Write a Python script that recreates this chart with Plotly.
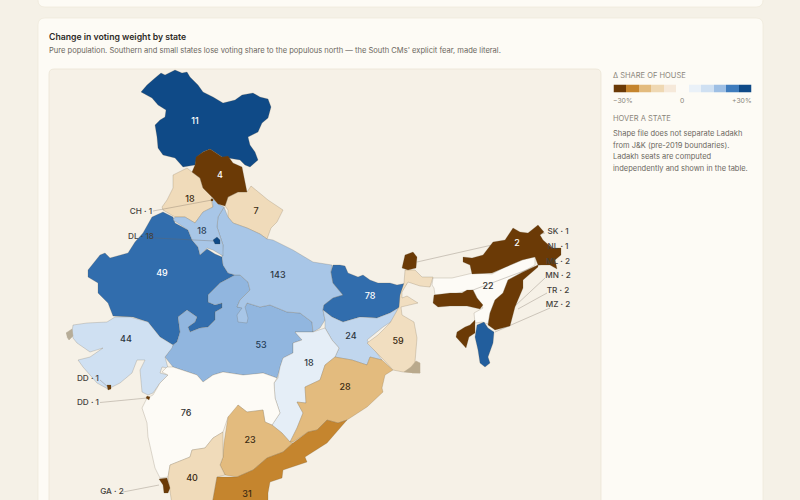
import plotly.graph_objects as go
from plotly.colors import sample_colorscale

# legend colours, low to high
SCALE_COLORS = ["#6b3a06", "#c5852e", "#e3bb7e", "#efd8b3", "#f6e9da", "#fdfbf6",
                "#eaf1f8", "#cfe0f2", "#9ebfe4", "#3f7cbd", "#0f4a87"]
LEGEND_BINS = [-30, -24, -18, -12, -6, 0, 6, 12, 18, 24, 30]

# state outlines (map units)
JK = [(141,92),(147,85),(155,78),(161,73),(165,75),(175,70),(182,73),(187,72),(190,77),(198,85),(203,92),(213,97),(223,103),(235,100),(242,95),(253,93),(260,97),(268,99),(271,107),(268,118),(262,123),(258,132),(248,137),(250,145),(255,152),(258,160),(250,167),(245,165),(240,160),(228,158),(222,157),(210,149),(203,152),(197,157),(195,165),(183,167),(175,158),(163,155),(158,148),(157,137),(155,125),(160,120),(165,117),(166,110),(158,105),(152,98),(142,93)]
HP = [(196,157),(203,152),(210,149),(222,157),(228,156),(233,163),(242,167),(244,177),(247,192),(238,192),(228,197),(225,206),(218,204),(212,197),(203,188),(200,178),(192,172),(195,165)]
PB = [(192,172),(200,178),(203,188),(212,197),(211,200),(213,207),(203,212),(195,223),(185,217),(175,217),(163,210),(162,207),(167,200),(173,188),(173,175),(187,168)]
UK = [(228,197),(238,192),(247,192),(251,186),(262,195),(268,200),(283,210),(277,222),(271,228),(267,239),(260,234),(247,228),(233,223),(228,217),(228,210),(225,206)]
RJ = [(163,212),(173,217),(175,223),(188,230),(192,240),(198,247),(200,255),(207,249),(215,254),(222,257),(223,265),(228,273),(235,275),(220,283),(208,295),(208,302),(215,305),(222,303),(222,308),(215,312),(215,320),(208,327),(200,328),(190,332),(188,327),(195,322),(197,317),(187,310),(178,317),(180,332),(177,342),(173,345),(160,337),(148,322),(133,317),(113,316),(108,303),(98,293),(98,283),(88,277),(88,270),(100,255),(105,253),(110,258),(128,253),(135,242),(143,233),(152,217)]
MP = [(235,275),(240,275),(248,282),(250,290),(240,300),(237,307),(245,307),(247,303),(260,307),(270,305),(287,312),(300,313),(312,322),(313,332),(295,332),(302,340),(293,343),(293,353),(283,358),(280,367),(277,378),(263,373),(250,375),(243,375),(223,372),(213,375),(203,382),(197,375),(173,367),(165,357),(172,347),(173,345),(177,342),(180,332),(178,317),(187,310),(197,317),(195,322),(188,327),(190,332),(200,328),(208,327),(215,320),(215,312),(222,308),(222,303),(215,305),(208,302),(208,295),(220,283)]
UP = [(224,207),(228,217),(233,223),(247,228),(260,234),(267,239),(273,240),(293,250),(313,262),(332,265),(331,272),(333,283),(337,288),(343,295),(333,298),(324,305),(323,310),(325,320),(320,328),(313,332),(312,322),(300,313),(287,312),(270,305),(260,307),(247,303),(245,307),(248,318),(247,323),(238,322),(237,315),(242,308),(237,307),(240,300),(250,290),(248,282),(240,275),(235,275),(228,273),(223,265),(222,257),(223,245),(217,227),(218,217)]
HR = [(212,198),(218,204),(224,207),(218,217),(217,227),(223,245),(223,256),(213,250),(207,248),(200,255),(198,247),(192,240),(188,230),(180,225),(173,220),(175,217),(185,217),(195,223),(203,212),(213,207)]
BR = [(333,265),(340,265),(345,266),(348,273),(358,277),(363,275),(370,280),(378,283),(390,283),(397,285),(407,283),(402,290),(400,300),(400,307),(390,313),(377,318),(360,317),(343,322),(332,317),(323,310),(324,305),(333,298),(343,295),(337,288),(333,283),(331,272)]
JH = [(323,310),(332,317),(343,322),(360,317),(377,318),(390,313),(400,307),(400,316),(383,327),(367,340),(382,360),(370,357),(367,365),(352,360),(340,358),(335,357),(339,348),(332,340),(325,328),(325,320)]
CT = [(295,332),(313,332),(325,328),(332,340),(339,348),(335,357),(325,365),(320,380),(305,387),(306,403),(297,402),(303,413),(297,428),(290,442),(282,433),(272,425),(280,413),(275,398),(274,383),(278,378),(280,367),(283,358),(293,353),(293,343),(302,340)]
OR = [(335,357),(340,358),(352,360),(367,365),(370,357),(382,360),(393,370),(385,375),(382,388),(383,392),(367,407),(347,420),(338,423),(327,420),(317,430),(308,432),(293,442),(290,442),(297,428),(303,413),(297,402),(306,403),(305,387),(320,380),(325,365)]
WB = [(405,270),(415,270),(422,277),(433,277),(430,287),(420,286),(408,282),(402,292),(402,298),(407,296),(418,303),(408,305),(401,307),(402,315),(414,322),(417,338),(415,362),(420,373),(403,372),(393,370),(382,358),(367,343),(378,335),(390,323),(396,312),(399,307),(400,295),(404,283)]
GJ = [(73,325),(87,323),(107,322),(115,317),(130,317),(148,322),(160,337),(173,345),(172,348),(165,357),(168,368),(162,367),(160,373),(168,375),(160,383),(153,393),(148,395),(142,392),(140,370),(145,360),(137,360),(132,373),(120,383),(108,389),(97,383),(83,367),(78,360),(90,357),(103,348),(90,352),(77,343),(73,338),(72,332)]
MH = [(167,367),(173,367),(197,375),(203,382),(213,375),(223,372),(243,375),(263,373),(277,378),(274,383),(275,398),(280,413),(272,425),(265,422),(263,410),(247,412),(238,405),(237,413),(228,417),(223,432),(213,438),(205,448),(192,450),(190,457),(170,465),(168,477),(160,478),(155,468),(148,437),(147,423),(142,408),(147,398),(153,395),(160,383),(168,375),(162,372)]
TG = [(238,405),(247,412),(263,410),(265,422),(272,425),(282,433),(290,442),(293,443),(283,452),(267,458),(253,470),(237,477),(225,475),(220,465),(223,457),(224,443),(228,417)]
KA = [(223,432),(213,438),(205,448),(192,450),(190,457),(170,465),(168,477),(170,490),(172,505),(212,505),(215,490),(217,477),(225,475),(220,465),(223,457)]
AP = [(347,420),(338,423),(327,420),(317,430),(308,432),(293,443),(283,452),(267,458),(253,470),(237,477),(217,477),(215,490),(212,505),(268,505),(268,493),(270,482),(282,478),(283,470),(307,462),(305,457),(327,443)]
AS = [(433,278),(452,278),(473,273),(492,274),(505,267),(522,260),(535,255),(535,265),(523,272),(508,280),(503,293),(495,300),(490,313),(488,324),(482,322),(475,323),(474,313),(483,308),(477,298),(473,290),(462,292),(450,295),(435,295),(434,288),(432,285)]
MZ = [(477,325),(484,322),(488,328),(494,332),(493,343),(488,357),(490,363),(485,367),(480,363),(478,350),(475,337)]
DL = [(213,240),(217,237),(220,240),(220,244),(215,244)]
CH = [(211,199),(213,199),(213,201),(211,201)]
SK = [(402,268),(405,255),(413,252),(417,257),(416,268),(408,270)]
AR = [(463,257),(472,258),(483,255),(493,242),(505,240),(513,228),(520,232),(528,233),(538,225),(544,232),(540,235),(543,240),(552,248),(561,248),(561,255),(555,260),(557,269),(550,265),(538,265),(535,257),(522,260),(505,267),(492,273),(472,274),(470,265),(463,262)]
MN = [(495,300),(503,293),(508,280),(523,272),(538,265),(538,267),(523,280),(523,288),(515,307),(510,326),(495,330),(488,325),(490,313)]
ML = [(434,295),(450,293),(462,293),(467,290),(473,290),(477,298),(483,305),(480,309),(467,306),(450,306),(438,307),(433,303)]
TR = [(457,332),(465,327),(470,325),(475,320),(475,333),(469,337),(466,348),(460,342),(456,337)]
GA = [(159,479),(167,478),(170,488),(168,493),(164,493),(163,485)]
DD1 = [(107,385),(111,385),(111,389),(108,390)]
DD2 = [(147,396),(150,397),(149,400),(146,398)]

BIG_STATES = [("J&K", JK, 30), ("Punjab", PB, -11), ("Uttarakhand", UK, -11), ("Rajasthan", RJ, 25.8),
              ("Madhya Pradesh", MP, 18.8), ("Uttar Pradesh", UP, 16.8), ("Haryana", HR, 16.8), ("Bihar", BR, 25.8),
              ("Jharkhand", JH, 13.8), ("Chhattisgarh", CT, 7), ("Odisha", OR, -18), ("West Bengal", WB, -10),
              ("Gujarat", GJ, 12), ("Maharashtra", MH, 0), ("Telangana", TG, -18), ("Karnataka", KA, -11),
              ("Andhra Pradesh", AP, -24), ("Assam", AS, 0), ("Mizoram shape", MZ, 27.6), ("Himachal", HP, -30)]
SMALL_STATES = [("Delhi", DL, 30), ("Chandigarh", CH, -30), ("Sikkim", SK, -30), ("Arunachal", AR, -30),
                ("Manipur", MN, -30), ("Meghalaya", ML, -30), ("Tripura", TR, -30), ("Goa", GA, -30),
                ("Daman", DD1, -30), ("Diu", DD2, -30)]

SEAT_TEXT = ["11", "4", "18", "18", "7", "49", "143", "78", "24", "59", "53", "44", "18", "28", "76", "23", "40", "31", "22", "2"]
SEAT_X = [195, 220, 190, 202, 256, 162, 278, 370, 351, 398, 261, 126, 309, 345, 186, 250, 192, 247, 488, 517]
SEAT_Y = [122, 176, 200, 232, 212, 274, 276, 297, 337, 342, 346, 340, 364, 388, 414, 441, 479, 495, 287, 244]
SEAT_COLOR = ["#fff", "#fff", "#3a2a12", "#2c3e55", "#3a2a12", "#fff", "#2c3540", "#fff", "#2c3540", "#3a2a12",
              "#223a55", "#2c3540", "#2c3540", "#3a2a12", "#333", "#3a2a12", "#3a2a12", "#3a2a12", "#333", "#fff"]

CALLOUT_TEXT = ["CH · 1", "DL · 18", "DD · 1", "DD · 1", "GA · 2", "SK · 1", "NL · 1", "ML · 2", "MN · 2", "TR · 2", "MZ · 2"]
CALLOUT_X = [141, 141, 88, 88, 112, 558, 558, 558, 558, 558, 558]
CALLOUT_Y = [212, 237, 379, 403, 492, 232, 247, 262, 276, 291, 305]
LEADER_X = [[153, 212], [155, 214], [100, 108], [100, 147], [123, 159], [417, 545], [535, 545], [473, 545], [515, 545], [518, 547], [495, 550]]
LEADER_Y = [[211, 200], [238, 241], [380, 387], [402.5, 398], [492, 485], [262, 233], [252, 248], [290, 263], [306, 278], [309, 293], [332, 308]]

INK = "#2d2a26"
MUTED = "#8a857a"
BODY = "#6b675e"
FONT = "Inter"
colorscale = [[i / 10, c] for i, c in enumerate(SCALE_COLORS)]


def rounded(x0, y0, x1, y1, r):
    return (f"M{x0+r},{y0} L{x1-r},{y0} Q{x1},{y0} {x1},{y0+r} L{x1},{y1-r} Q{x1},{y1} {x1-r},{y1} "
            f"L{x0+r},{y1} Q{x0},{y1} {x0},{y1-r} L{x0},{y0+r} Q{x0},{y0} {x0+r},{y0} Z")


def add_state(fig, name, outline, delta):
    xs = [p[0] for p in outline] + [outline[0][0]]
    ys = [p[1] for p in outline] + [outline[0][1]]
    fill = sample_colorscale(colorscale, (delta + 30) / 60)[0]
    fig.add_trace(go.Scatter(x=xs, y=ys, mode="lines", fill="toself", fillcolor=fill, name=name,
                             line=dict(color="rgba(95,80,55,0.4)", width=0.5), hoverinfo="name"))


fig = go.Figure()

for name, outline, delta in BIG_STATES:
    add_state(fig, name, outline, delta)

# leaders go under the little north-east states
for lx, ly in zip(LEADER_X, LEADER_Y):
    fig.add_trace(go.Scatter(x=lx, y=ly, mode="lines", line=dict(color="rgba(110,100,85,0.45)", width=0.7),
                             hoverinfo="skip"))

for name, outline, delta in SMALL_STATES:
    add_state(fig, name, outline, delta)

# Sundarbans and Kutch show as dense coast, just grey them in
fig.add_trace(go.Scatter(x=[404, 411, 416, 420, 420, 412], y=[372, 367, 361, 363, 373, 373], mode="lines", fill="toself",
                         fillcolor="#b9a98c", line=dict(color="#b9a98c", width=0.5), hoverinfo="skip"))
fig.add_trace(go.Scatter(x=[66, 72, 73, 69, 67], y=[333, 329, 336, 340, 337], mode="lines", fill="toself",
                         fillcolor="#b7ad98", line=dict(color="#b7ad98", width=0.5), hoverinfo="skip"))

fig.add_trace(go.Scatter(x=SEAT_X, y=SEAT_Y, mode="text", text=SEAT_TEXT, hoverinfo="skip",
                         textfont=dict(family=FONT, size=9, color=SEAT_COLOR, weight=500)))
fig.add_trace(go.Scatter(x=CALLOUT_X, y=CALLOUT_Y, mode="text", text=CALLOUT_TEXT, hoverinfo="skip",
                         textfont=dict(family=FONT, size=8.2, color="#45423c", weight=500)))

# legend strip
fig.add_trace(go.Heatmap(z=[LEGEND_BINS], xaxis="x2", yaxis="y2", zmin=-30, zmax=30, colorscale=colorscale,
                         showscale=False, hoverinfo="skip"))


def note(text, x, y, size, color, anchor="left", weight=400):
    fig.add_annotation(text=text, x=x, y=y, xref="x", yref="y", showarrow=False, xanchor=anchor, yanchor="middle",
                       borderpad=0, font=dict(family=FONT, size=size, color=color, weight=weight))


note("Change in voting weight by state", 48, 36.5, 8.7, INK, weight=600)
note("Pure population. Southern and small states lose voting share to the populous north — the South CMs' explicit fear, made literal.",
     48, 50.5, 7.55, BODY)
note("Δ SHARE OF HOUSE", 612, 75, 7.5, MUTED)
note("−30%", 612, 100.5, 6.8, MUTED)
note("0", 682, 100.5, 6.8, MUTED, "center")
note("+30%", 753, 100.5, 6.8, MUTED, "right")
note("HOVER A STATE", 612, 118.5, 7.5, MUTED)
note("Shape file does not separate Ladakh", 612, 133, 7.5, BODY)
note("from J&amp;K (pre-2019 boundaries).", 612, 145, 7.5, BODY)
note("Ladakh seats are computed", 612, 156.5, 7.5, BODY)
note("independently and shown in the table.", 612, 168.5, 7.5, BODY)

fig.update_layout(
    width=800, height=500, margin=dict(l=0, r=0, t=0, b=0), showlegend=False,
    paper_bgcolor="#f5f1e7", plot_bgcolor="rgba(0,0,0,0)",
    xaxis=dict(range=[0, 800], visible=False, fixedrange=True, domain=[0, 1]),
    yaxis=dict(range=[500, 0], visible=False, fixedrange=True, domain=[0, 1]),
    xaxis2=dict(domain=[613.5 / 800, 751.5 / 800], visible=False, fixedrange=True, anchor="y2"),
    yaxis2=dict(domain=[1 - 92.5 / 500, 1 - 84.5 / 500], visible=False, fixedrange=True, anchor="x2"),
    shapes=[
        dict(type="path", path=rounded(38, -20, 763, 7, 7), fillcolor="#fdfbf5", line=dict(color="#eee8da", width=0.7), layer="below"),
        dict(type="path", path=rounded(38, 18, 763, 530, 7), fillcolor="#fdfbf5", line=dict(color="#eee8da", width=0.7), layer="below"),
        dict(type="path", path=rounded(49, 69, 601, 530, 5), fillcolor="#f6f1e7", line=dict(color="#e9e2d3", width=0.7), layer="below"),
    ],
)

fig.write_html("out.html", config={"displayModeBar": False}, post_script="document.body.style.margin='0';")
